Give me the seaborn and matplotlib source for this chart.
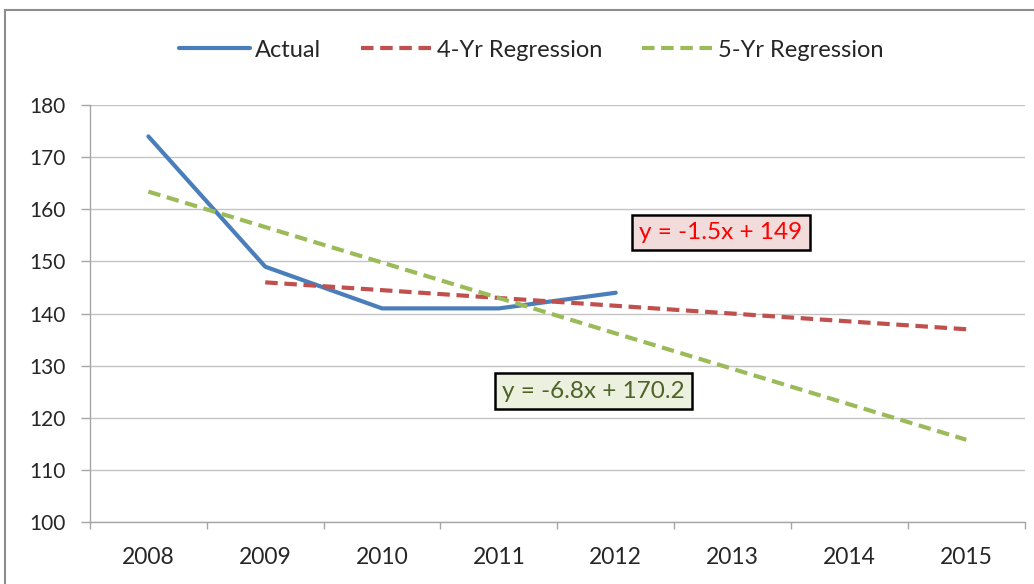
import numpy as np
import pandas as pd
import matplotlib
matplotlib.use("Agg")
import matplotlib.pyplot as plt
import seaborn as sns
from matplotlib.patches import Rectangle

# -----------------------------
# Data
# -----------------------------
years = [2008, 2009, 2010, 2011, 2012, 2013, 2014, 2015]
actual_years = [2008, 2009, 2010, 2011, 2012]
actual = [174, 149, 141, 141, 144]
reg4_years = [2009, 2010, 2011, 2012, 2013, 2014, 2015]
reg4 = [146, 144.5, 143, 141.5, 140, 138.5, 137]
reg5_years = [2008, 2009, 2010, 2011, 2012, 2013, 2014, 2015]
reg5 = [163.4, 156.6, 149.8, 143, 136.2, 129.4, 122.6, 115.8]
y_ticks = [100, 110, 120, 130, 140, 150, 160, 170, 180]

# -----------------------------
# Styling
# -----------------------------
sns.set_style("white")
plt.rcParams['font.family'] = ['Lato', 'DejaVu Sans']

blue = "#4a7ebb"
red = "#c0504d"
green = "#9bbb59"
axis_gray = "#a6a6a6"

fig = plt.figure(figsize=(10.34, 5.84), dpi=100)
ax = fig.add_axes([0.087, 0.106, 0.904, 0.714])

# outer chart border
fig.patches.append(Rectangle((5 / 1034, -0.05), 1.2, 1 - 10 / 584 + 0.05,
                             transform=fig.transFigure, fill=False,
                             edgecolor="#8c8c8c", linewidth=1.5))

df_actual = pd.DataFrame({"year": actual_years, "value": actual})
df_reg4 = pd.DataFrame({"year": reg4_years, "value": reg4})
df_reg5 = pd.DataFrame({"year": reg5_years, "value": reg5})

sns.lineplot(data=df_actual, x="year", y="value", ax=ax, color=blue,
             linewidth=3, label="Actual")
sns.lineplot(data=df_reg4, x="year", y="value", ax=ax, color=red,
             linewidth=3, label="4-Yr Regression")
sns.lineplot(data=df_reg5, x="year", y="value", ax=ax, color=green,
             linewidth=3, label="5-Yr Regression")
ax.lines[1].set_dashes([3, 1.6])
ax.lines[2].set_dashes([3, 1.6])

ax.set_xlim(2007.5, 2015.5)
ax.set_ylim(100, 180)
ax.set_yticks(y_ticks)
ax.set_xticks(years)
ax.set_xticks(np.arange(2007.5, 2016, 1), minor=True)
ax.tick_params(axis="x", which="major", length=0, pad=18, labelsize=16.5)
ax.tick_params(axis="x", which="minor", length=5, color=axis_gray, width=1,
               direction="out", bottom=True)
ax.tick_params(axis="y", length=6.5, color=axis_gray, width=1, direction="out",
               left=True, pad=11, labelsize=15)
ax.set_xlabel("")
ax.set_ylabel("")

ax.grid(axis="y", color="#c4c4c4", linewidth=1)
ax.set_axisbelow(True)
for s in ["top", "right"]:
    ax.spines[s].set_visible(False)
for s in ["left", "bottom"]:
    ax.spines[s].set_color(axis_gray)
    ax.spines[s].set_linewidth(1)

handles, labels = ax.get_legend_handles_labels()
ax.legend(handles, labels, loc="center", bbox_to_anchor=(0.472, 1.132), ncol=3,
          frameon=False, fontsize=17, handlelength=3.0,
          handletextpad=0.2, columnspacing=1.7)

# trendline equation labels
ax.text(2012.9, 155.6, "y = -1.5x + 149", fontsize=17.5, color="#ff0000",
        ha="center", va="center",
        bbox=dict(boxstyle="square,pad=0.3", facecolor="#f2dcdb",
                  edgecolor="black", linewidth=1.8))
ax.text(2011.81, 125.1, "y = -6.8x + 170.2", fontsize=17.5, color="#4f6228",
        ha="center", va="center",
        bbox=dict(boxstyle="square,pad=0.3", facecolor="#ebf1de",
                  edgecolor="black", linewidth=1.8))

fig.savefig("out.png", dpi=100)
